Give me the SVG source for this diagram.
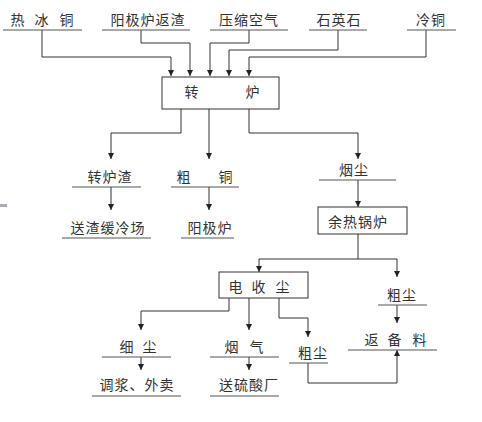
<svg xmlns="http://www.w3.org/2000/svg" width="482" height="422" viewBox="0 0 482 422">
<defs>
<style>
text{font-family:"Noto Sans CJK SC","Noto Sans",sans-serif;font-size:14px;fill:#333;text-anchor:middle;letter-spacing:1px}
.u{stroke:#555;stroke-width:1;fill:none}
.b{stroke:#333;stroke-width:1;fill:#fff}
.c{stroke:#333;stroke-width:1;fill:none}
</style>
<marker id="ah" viewBox="0 0 10 10" refX="10" refY="5" markerWidth="6" markerHeight="6" markerUnits="userSpaceOnUse" orient="auto">
<path d="M0,0 L10,5 L0,10 z" fill="#222"/>
</marker>
</defs>
<rect width="482" height="422" fill="#fff"/>
<rect x="0" y="204" width="7" height="3" fill="#a9adb3"/>
<g id="connectors" class="c">
<path d="M42,30 V57 H171 V76" marker-end="url(#ah)"/>
<path d="M141,30 V43 H190 V76" marker-end="url(#ah)"/>
<path d="M249,30 V43 H210 V76" marker-end="url(#ah)"/>
<path d="M338,30 V50 H229 V76" marker-end="url(#ah)"/>
<path d="M426,30 V57 H249 V76" marker-end="url(#ah)"/>
<path d="M181,109 V133 H111 V159" marker-end="url(#ah)"/>
<path d="M209,109 V159" marker-end="url(#ah)"/>
<path d="M249,109 V133 H358 V159" marker-end="url(#ah)"/>
<path d="M111,187 V210" marker-end="url(#ah)"/>
<path d="M209,187 V210" marker-end="url(#ah)"/>
<path d="M358,180 V207" marker-end="url(#ah)"/>
<path d="M358,234 V259 H259 V272" marker-end="url(#ah)"/>
<path d="M358,259 H397 V277" marker-end="url(#ah)"/>
<path d="M397,305 V323" marker-end="url(#ah)"/>
<path d="M229,298 V311 H141 V330" marker-end="url(#ah)"/>
<path d="M249,298 V330" marker-end="url(#ah)"/>
<path d="M279,298 V318 H308 V337" marker-end="url(#ah)"/>
<path d="M141,357 V370" marker-end="url(#ah)"/>
<path d="M249,357 V370" marker-end="url(#ah)"/>
<path d="M308,363 V383 H397 V350" marker-end="url(#ah)"/>
</g>
<g id="n-rebingtong"><line class="u" x1="3" y1="30" x2="82" y2="30"/><text x="18" y="25">热</text><text x="42" y="25">冰</text><text x="67" y="25">铜</text></g>
<g id="n-yangjiluzha"><line class="u" x1="102" y1="30" x2="190" y2="30"/><text x="148" y="25">阳极炉返渣</text></g>
<g id="n-yasuokongqi"><line class="u" x1="210" y1="30" x2="288" y2="30"/><text x="249" y="25">压缩空气</text></g>
<g id="n-shiyingshi"><line class="u" x1="309" y1="30" x2="367" y2="30"/><text x="339" y="25">石英石</text></g>
<g id="n-lengtong"><line class="u" x1="407" y1="30" x2="456" y2="30"/><text x="431" y="25">冷铜</text></g>
<g id="n-zhuanlu"><rect class="b" x="162" y="77" width="117" height="32"/><text x="192" y="97">转</text><text x="253" y="97">炉</text></g>
<g id="n-zhuanluzha"><line class="u" x1="72" y1="187" x2="141" y2="187"/><text x="110" y="182">转炉渣</text></g>
<g id="n-cutong"><line class="u" x1="171" y1="187" x2="239" y2="187"/><text x="184" y="182">粗</text><text x="226" y="182">铜</text></g>
<g id="n-yanchen"><line class="u" x1="319" y1="180" x2="396" y2="180"/><text x="354" y="175">烟尘</text></g>
<g id="n-songzha"><line class="u" x1="62" y1="238" x2="151" y2="238"/><text x="108" y="233">送渣缓冷场</text></g>
<g id="n-yangjilu"><line class="u" x1="181" y1="238" x2="234" y2="238"/><text x="210" y="233">阳极炉</text></g>
<g id="n-yureguolu"><rect class="b" x="318" y="207" width="89" height="27"/><text x="358" y="227">余热锅炉</text></g>
<g id="n-dianshouchen"><rect class="b" x="219" y="272" width="89" height="26"/><text x="236" y="292">电</text><text x="259" y="292">收</text><text x="283" y="292">尘</text></g>
<g id="n-cuchen-r"><line class="u" x1="378" y1="305" x2="427" y2="305"/><text x="402" y="300">粗尘</text></g>
<g id="n-fanbeiliao"><line class="u" x1="348" y1="350" x2="437" y2="350"/><text x="372" y="345">返</text><text x="395" y="345">备</text><text x="420" y="345">料</text></g>
<g id="n-xichen"><line class="u" x1="102" y1="357" x2="171" y2="357"/><text x="127" y="352">细</text><text x="150" y="352">尘</text></g>
<g id="n-yanqi"><line class="u" x1="210" y1="357" x2="279" y2="357"/><text x="232" y="352">烟</text><text x="257" y="352">气</text></g>
<g id="n-cuchen-m"><line class="u" x1="289" y1="363" x2="328" y2="363"/><text x="313" y="358">粗尘</text></g>
<g id="n-tiaojiang"><line class="u" x1="92" y1="396" x2="181" y2="396"/><text x="137" y="390">调浆、外卖</text></g>
<g id="n-songliusuan"><line class="u" x1="210" y1="396" x2="279" y2="396"/><text x="249" y="390">送硫酸厂</text></g>
</svg>
